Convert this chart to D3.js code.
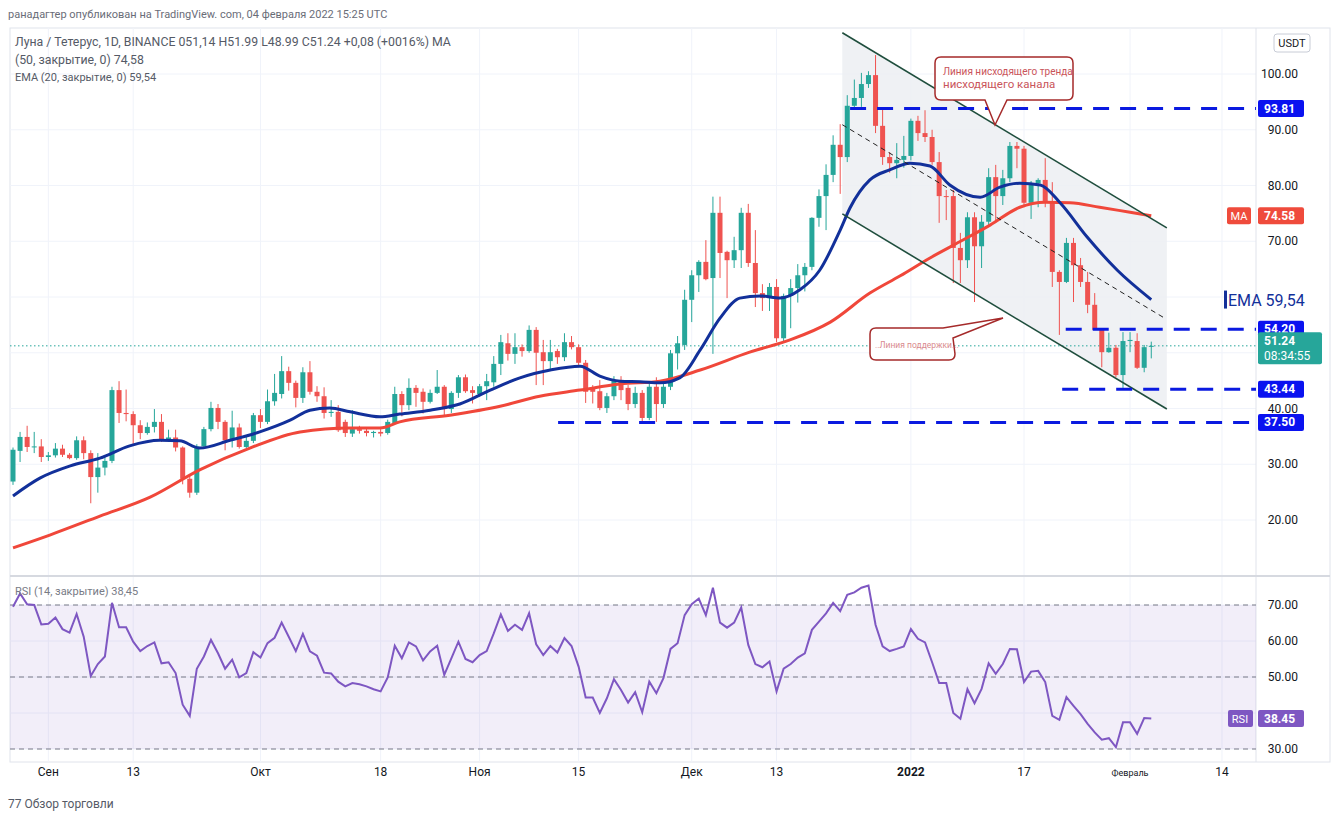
<!DOCTYPE html>
<html>
<head>
<meta charset="utf-8">
<script src="https://cdn.jsdelivr.net/npm/d3@7"></script>
<style>
  body { margin: 0; background: #fff; }
  svg { font-family: Roboto, "Noto Sans", sans-serif; }
</style>
</head>
<body>
<svg id="chart" width="1336" height="822"></svg>
<script>
// daily candles, first one is 27 Aug 2021, last one 4 Feb 2022
const opens = [26.9,32.4,34.9,33.1,33.2,31.3,31.6,32.8,31.7,31.1,34.3,32.0,27.7,29.4,30.6,43.3,39.2,39.0,37.0,35.6,
  36.7,37.6,34.3,34.8,33.0,27.4,24.9,33.2,36.3,40.1,37.6,34.3,36.6,33.1,34.2,38.8,37.6,41.3,42.6,46.7,
  44.6,41.9,46.5,43.0,42.2,39.2,39.4,37.6,35.5,36.3,36.0,35.6,35.8,35.6,37.4,42.6,40.6,43.7,43.0,41.2,
  42.8,43.9,39.9,42.8,45.6,43.3,42.6,44.0,44.7,48.0,51.7,49.8,51.0,50.3,54.1,50.1,48.5,50.3,49.2,51.9,
  51.0,48.2,43.7,43.1,40.1,42.2,45.1,43.7,40.8,42.8,38.3,43.9,40.8,43.9,49.9,51.4,59.5,63.9,66.3,63.4,
  75.1,68.1,66.6,68.4,75.1,66.1,60.7,59.8,61.8,52.6,60.2,61.6,63.9,65.4,74.2,78.1,81.9,87.3,85.1,94.3,
  95.7,98.2,99.8,90.7,85.1,84.0,84.6,85.3,91.6,89.4,88.7,84.2,78.1,78.1,68.8,66.6,74.3,69.1,73.5,81.5,
  78.1,81.3,87.1,86.6,76.9,80.4,81.0,77.0,64.5,62.7,69.7,65.7,62.7,58.6,54.1,50.1,50.9,46.0,52.1,52.1,
  47.3,51.14];
const highs = [33.0,35.8,36.9,35.8,34.5,32.2,33.8,33.5,32.0,35.0,35.0,32.5,32.0,31.5,43.9,44.9,43.4,39.5,37.9,37.5,
  39.9,39.0,36.2,36.2,33.2,28.0,33.6,36.7,41.2,40.8,37.9,39.6,37.3,35.0,39.2,39.9,43.4,46.2,49.4,47.5,
  45.0,47.4,48.5,44.0,43.8,41.5,40.6,38.0,39.7,36.9,36.5,36.0,36.3,38.0,43.9,43.1,45.4,44.2,43.6,43.4,
  46.9,44.2,43.1,46.0,46.1,44.0,44.4,46.2,49.4,53.2,53.5,53.5,51.5,54.9,54.6,52.3,52.3,50.7,53.5,53.0,
  51.5,48.7,44.2,45.1,42.8,45.8,45.8,44.2,43.9,43.3,44.4,45.6,44.4,50.5,53.0,61.3,64.8,66.6,70.2,78.0,
  78.0,68.3,70.8,76.0,76.7,72.0,62.3,62.5,63.2,60.6,63.2,65.9,66.1,74.3,79.3,83.8,89.0,91.0,96.2,99.0,
  100.2,100.5,103.4,93.9,86.0,87.6,88.9,92.0,92.5,93.5,90.0,86.0,79.2,79.2,71.5,75.2,75.2,74.7,83.1,83.7,
  82.8,87.8,87.8,87.1,80.8,81.3,84.9,80.6,64.8,70.6,70.6,67.0,64.5,60.7,54.1,53.6,51.4,53.7,53.7,53.5,
  51.4,51.99];
const lows = [26.3,30.4,32.2,32.0,30.4,30.6,31.2,31.3,30.9,30.8,30.9,23.0,24.9,28.0,30.2,37.4,37.7,33.5,34.5,35.3,
  35.7,34.0,34.0,32.3,26.4,24.0,24.5,33.0,35.9,36.3,32.5,33.0,32.8,32.9,33.8,36.5,37.2,40.5,41.8,43.2,
  40.2,41.0,42.5,41.2,38.2,38.5,35.8,34.9,34.9,35.5,35.0,34.8,35.0,35.3,37.2,38.6,39.7,40.3,39.1,40.9,
  42.6,38.5,39.2,41.9,42.8,40.9,42.1,41.5,43.9,46.0,48.6,48.0,49.3,50.0,44.2,44.2,46.9,48.0,48.5,50.6,
  47.6,41.0,40.9,39.7,39.2,41.5,41.5,39.7,40.1,37.6,37.9,37.6,40.1,43.3,47.0,50.5,55.5,60.9,63.0,49.8,
  63.4,59.8,65.2,65.2,65.4,58.2,57.5,57.5,51.9,51.9,54.4,59.0,61.0,64.8,72.6,72.0,80.6,78.5,84.2,94.0,
  94.1,97.5,89.4,83.7,82.3,81.3,83.2,84.5,88.0,87.8,83.7,73.3,73.8,62.5,62.5,65.2,59.1,65.2,72.6,73.3,
  76.5,80.6,83.1,76.1,74.0,76.1,76.1,61.8,53.2,62.5,59.1,61.8,57.1,54.1,47.4,50.0,45.6,43.7,50.1,47.1,
  46.5,48.99];
const closes = [32.6,34.9,33.1,33.2,31.3,31.6,32.8,31.7,31.1,34.3,32.0,27.7,29.4,30.6,43.3,39.2,39.0,37.0,35.6,36.7,
  37.6,34.3,34.8,33.0,27.4,24.9,33.2,36.3,40.1,37.6,34.3,36.6,33.1,34.2,38.8,37.6,41.3,42.8,46.7,44.6,
  41.9,46.5,43.0,42.2,39.2,39.4,36.1,35.6,36.3,36.0,35.6,35.8,35.5,37.6,42.6,40.6,43.7,42.8,41.2,42.8,
  43.9,39.9,42.8,45.6,43.1,42.8,44.0,44.9,48.0,51.9,49.8,51.0,50.3,54.1,50.0,48.5,50.1,49.2,51.9,51.0,
  48.2,43.0,43.0,40.1,42.2,45.1,43.3,40.8,42.8,38.3,43.9,40.8,43.9,49.9,51.7,59.5,63.9,66.3,63.2,75.1,
  67.9,66.6,68.4,75.1,66.1,60.7,59.8,61.8,52.6,60.2,61.6,63.9,65.4,74.2,78.1,81.9,87.3,85.1,94.3,95.7,
  98.2,99.8,90.7,85.1,84.0,84.6,85.3,91.6,89.4,88.7,84.2,78.1,78.0,68.8,66.6,74.3,69.1,73.5,81.5,78.1,
  81.3,87.1,86.6,76.9,80.4,81.0,77.0,64.5,62.7,69.7,65.7,62.7,58.6,54.1,50.1,50.9,46.0,52.1,52.3,47.3,
  51.0,51.24];

// moving averages as [day index, value]
const ema20 = [[0,24.3],[3.8,27.5],[8.1,29.7],[12.3,31.1],[16.5,33.3],[20.8,34.3],[23.6,34.2],[26.4,32.9],[30.7,34.3],
  [34.9,35.8],[39.2,37.9],[42,39.7],[44.8,40.1],[47.7,39.4],[51.9,38.5],[54.7,39.0],[59,39.7],[63.2,40.8],[67.5,43.3],
  [71.7,45.5],[76,46.9],[80.2,47.6],[83,45.8],[85.9,44.9],[88.7,44.8],[91.5,44.6],[94.3,45.5],[97.2,50.5],[100,56.2],
  [102.8,59.8],[105.7,60.2],[108.5,59.8],[111.3,61.3],[114.1,64.8],[117,72.0],[118.4,76.0],[121.2,81.0],[124,82.8],
  [126.9,84.0],[129.7,83.5],[132.5,80.1],[136.8,77.9],[139.6,79.7],[142.4,80.4],[145.3,80.1],[148.1,76.9],[151.9,70.8],
  [156.2,64.8],[161,59.54]];
const ma50 = [[0,15.0],[5.2,17.3],[12.3,20.7],[19.4,24.1],[26.4,29.0],[33.5,32.9],[40.6,35.8],[47.7,36.5],[51.9,36.5],
  [54.7,37.6],[61.8,38.8],[68.9,40.4],[74.5,42.2],[80.2,43.3],[85.9,44.4],[91.5,44.9],[97.2,46.9],[104.2,50.1],
  [109.9,52.3],[115.6,55.5],[121.2,60.7],[125.5,63.8],[129.7,67.0],[133.9,69.9],[138.2,72.9],[142.4,76.1],[146,77.0],
  [149.5,76.9],[153.7,76.1],[158,75.2],[161,74.58]];

// RSI(14), one value per day
const rsi = [69.5,73.2,70.2,70.0,64.6,64.8,66.5,63.3,62.3,67.5,61.2,50.3,53.6,55.7,70.6,63.8,63.8,59.8,57.2,58.6,
  59.6,53.8,54.1,51.1,42.3,39.2,52.3,55.7,60.3,56.6,52.3,54.8,49.9,51.1,56.9,55.4,59.4,60.9,65.1,61.2,
  57.2,62.0,57.1,55.9,51.2,51.0,48.7,47.4,48.3,48.0,47.4,46.6,46.0,49.9,58.7,55.2,59.6,58.5,54.6,57.1,
  58.7,50.6,55.2,59.8,55.0,54.1,56.1,57.2,62.1,67.4,62.8,64.5,63.1,67.7,59.1,56.1,58.6,56.8,60.8,58.6,
  52.9,44.3,44.3,40.0,44.1,49.4,46.4,42.9,45.8,40.2,48.7,45.5,49.7,57.8,59.4,67.2,70.2,71.8,67.2,74.8,
  65.1,63.7,65.1,69.3,58.9,53.6,52.7,54.3,46.0,52.3,53.6,55.4,56.6,63.1,65.4,67.7,70.6,68.3,72.8,73.5,
  74.8,75.4,64.5,58.5,57.2,57.8,58.5,63.3,60.6,59.6,54.1,48.3,48.3,40.0,38.4,46.6,42.7,46.7,53.8,50.9,
  53.6,57.8,57.7,48.6,51.5,51.7,48.6,39.2,38.1,44.4,42.0,39.7,37.0,34.6,32.6,33.0,30.5,37.4,37.4,34.2,
  38.6,38.45];

// drawings: channel lines [day index, price]
const channelTop = [[117.3,107.4],[163.2,72.4]];
const channelBottom = [[117.3,74.9],[163.2,39.9]];
const channelMid = [[117.3,90.9],[162.9,56.2]];
const levels = [{v:93.81,from:118.4},{v:54.20,from:148.9},{v:43.44,from:148.4},{v:37.50,from:77.1}];

const priceTicks = [100,90,80,70,40,30,20];
const rsiTicks = [70,60,50,30];
const timeLabels = [
  {d:new Date(2021,8,1), t:"Сен"}, {d:new Date(2021,8,13), t:"13"}, {d:new Date(2021,9,1), t:"Окт"},
  {d:new Date(2021,9,18), t:"18"}, {d:new Date(2021,10,1), t:"Ноя"}, {d:new Date(2021,10,15), t:"15"},
  {d:new Date(2021,11,1), t:"Дек"}, {d:new Date(2021,11,13), t:"13"}, {d:new Date(2022,0,1), t:"2022", bold:true},
  {d:new Date(2022,0,17), t:"17"}, {d:new Date(2022,1,1), t:"Февраль", small:true}, {d:new Date(2022,1,14), t:"14"}];

const green = "#26a69a", red = "#ef5350";
const svg = d3.select("#chart");
const start = new Date(2021,7,27);
const dayX = d3.scaleLinear().domain([0,161]).range([13, 13 + 161*7.07]);
const x = d3.scaleTime().domain([start, d3.timeDay.offset(start,161)]).range(dayX.range());
const y = d3.scaleLinear().domain([20,100]).range([520,74]);
const yr = d3.scaleLinear().domain([30,70]).range([749,605]);

const padL = 10, padR = 1256, padT = 28, mainBottom = 576, rsiBottom = 762;

// frame + grid
svg.append("rect").attr("x",padL).attr("y",padT).attr("width",1320).attr("height",rsiBottom-padT)
  .attr("fill","none").attr("stroke","#e0e3eb");
const grid = svg.append("g").attr("stroke","#f0f3fa");
timeLabels.forEach(l => {
  grid.append("line").attr("x1",x(l.d)).attr("x2",x(l.d)).attr("y1",padT).attr("y2",rsiBottom);
});
[100,90,80,70,60,50,40,30,20].forEach(v => grid.append("line").attr("x1",padL).attr("x2",padR).attr("y1",y(v)).attr("y2",y(v)));
[70,60,50,40,30].forEach(v => grid.append("line").attr("x1",padL).attr("x2",padR).attr("y1",yr(v)).attr("y2",yr(v)));
svg.append("line").attr("x1",padR).attr("x2",padR).attr("y1",padT).attr("y2",rsiBottom).attr("stroke","#e0e3eb");
svg.append("line").attr("x1",padL).attr("x2",1330).attr("y1",mainBottom).attr("y2",mainBottom).attr("stroke","#d6d9e0").attr("stroke-width",2);

const defs = svg.append("defs");
defs.append("clipPath").attr("id","mainClip")
  .append("rect").attr("x",padL).attr("y",padT).attr("width",padR-padL).attr("height",mainBottom-padT);
defs.append("clipPath").attr("id","rsiClip")
  .append("rect").attr("x",padL).attr("y",mainBottom).attr("width",padR-padL).attr("height",rsiBottom-mainBottom);

const main = svg.append("g").attr("clip-path","url(#mainClip)");
const pt = d => [dayX(d[0]), y(d[1])];

// channel shading
main.append("path")
  .attr("d", d3.line()([pt(channelTop[0]), pt(channelTop[1]), pt(channelBottom[1]), pt(channelBottom[0])]) + "Z")
  .attr("fill","#eceef2").attr("opacity",0.85);

// last price dotted line
main.append("line").attr("x1",padL).attr("x2",padR).attr("y1",y(51.24)).attr("y2",y(51.24))
  .attr("stroke",green).attr("stroke-dasharray","1.5,2.5");

// candles
const idx = d3.range(closes.length);
const cg = main.append("g");
idx.forEach(i => {
  const c = closes[i] >= opens[i] ? green : red;
  const cx = dayX(i);
  cg.append("line").attr("x1",cx).attr("x2",cx).attr("y1",y(highs[i])).attr("y2",y(lows[i])).attr("stroke",c);
  const y0 = y(Math.max(opens[i],closes[i])), y1 = y(Math.min(opens[i],closes[i]));
  cg.append("rect").attr("x",cx-2.5).attr("width",5).attr("y",y0).attr("height",Math.max(1,y1-y0)).attr("fill",c);
});

// MA / EMA
const curve = d3.line().x(d => dayX(d[0])).y(d => y(d[1])).curve(d3.curveMonotoneX);
main.append("path").attr("d",curve(ma50)).attr("fill","none").attr("stroke","#f0473a").attr("stroke-width",3);
main.append("path").attr("d",curve(ema20)).attr("fill","none").attr("stroke","#12309a").attr("stroke-width",3);

// channel lines
[channelTop, channelBottom].forEach(l => main.append("line")
  .attr("x1",pt(l[0])[0]).attr("y1",pt(l[0])[1]).attr("x2",pt(l[1])[0]).attr("y2",pt(l[1])[1])
  .attr("stroke","#1f4e3d").attr("stroke-width",1.6));
main.append("line").attr("x1",pt(channelMid[0])[0]).attr("y1",pt(channelMid[0])[1])
  .attr("x2",pt(channelMid[1])[0]).attr("y2",pt(channelMid[1])[1])
  .attr("stroke","#222").attr("stroke-dasharray","5,4");

// horizontal levels
levels.forEach(l => main.append("line").attr("x1",dayX(l.from)).attr("x2",padR).attr("y1",y(l.v)).attr("y2",y(l.v))
  .attr("stroke","#0a1ae0").attr("stroke-width",3).attr("stroke-dasharray","16,11"));

// callouts
function callout(x0,y0,w,h,tip,base,lines,size) {
  const p = d3.path();
  p.moveTo(x0+6,y0); p.lineTo(x0+w-6,y0); p.quadraticCurveTo(x0+w,y0,x0+w,y0+6);
  p.lineTo(x0+w,y0+h-6); p.quadraticCurveTo(x0+w,y0+h,x0+w-6,y0+h);
  p.lineTo(base[1],y0+h); p.lineTo(tip[0],tip[1]); p.lineTo(base[0],y0+h);
  p.lineTo(x0+6,y0+h); p.quadraticCurveTo(x0,y0+h,x0,y0+h-6); p.lineTo(x0,y0+6); p.quadraticCurveTo(x0,y0,x0+6,y0);
  svg.append("path").attr("d",p.toString()).attr("fill","#fff").attr("stroke","#a52a2a").attr("stroke-width",1.5);
  lines.forEach((t,k) => svg.append("text").attr("x",x0+8).attr("y",y0+18+k*13).attr("font-size",size[k])
    .attr("fill","#c9545a").text(t));
}
callout(935,57,138,43,[995,125],[985,1007],["Линия нисходящего тренда","нисходящего канала"],[10,11.5]);
// support callout with pointer going right
(function(){
  const x0=870,y0=328,w=85,h=32;
  const p = d3.path();
  p.moveTo(x0+6,y0); p.lineTo(x0+w-12,y0); p.lineTo(1003,318); p.lineTo(x0+w-2,y0+10);
  p.lineTo(x0+w,y0+h-6); p.quadraticCurveTo(x0+w,y0+h,x0+w-6,y0+h);
  p.lineTo(x0+6,y0+h); p.quadraticCurveTo(x0,y0+h,x0,y0+h-6); p.lineTo(x0,y0+6); p.quadraticCurveTo(x0,y0,x0+6,y0);
  svg.append("path").attr("d",p.toString()).attr("fill","#fff").attr("stroke","#a52a2a").attr("stroke-width",1.5);
  svg.append("text").attr("x",x0+5).attr("y",y0+20).attr("font-size",8.5).attr("fill","#d98a8e").text("..Линия поддержки...");
})();

// price axis labels
const ax = svg.append("g").attr("font-size",12).attr("fill","#131722").attr("text-anchor","end");
priceTicks.forEach(v => ax.append("text").attr("x",1298).attr("y",y(v)+4).text(d3.format(".2f")(v)));
svg.append("rect").attr("x",1274).attr("y",34).attr("width",36).attr("height",18).attr("rx",3)
  .attr("fill","#fff").attr("stroke","#c8ccd6");
svg.append("text").attr("x",1292).attr("y",47).attr("font-size",11).attr("text-anchor","middle").attr("fill","#131722").text("USDT");

function tag(v, yy, fill, text2) {
  const h = text2 ? 32 : 17;
  svg.append("rect").attr("x",1258).attr("y",yy-8.5).attr("width",text2 ? 64 : 46).attr("height",h).attr("rx",2).attr("fill",fill);
  svg.append("text").attr("x",1264).attr("y",yy+4).attr("font-size",12).attr("font-weight","bold").attr("fill","#fff").text(v);
  if (text2) svg.append("text").attr("x",1264).attr("y",yy+19).attr("font-size",12).attr("fill","#fff").text(text2);
}
levels.forEach(l => tag(d3.format(".2f")(l.v), y(l.v), "#0a12f0"));
tag("51.24", y(51.24)-5, green, "08:34:55");
tag("74.58", y(74.58), "#ef4b3c");
svg.append("rect").attr("x",1227).attr("y",y(74.58)-8.5).attr("width",24).attr("height",17).attr("rx",2).attr("fill","#ef4b3c");
svg.append("text").attr("x",1239).attr("y",y(74.58)+4).attr("font-size",11).attr("text-anchor","middle").attr("fill","#fff").text("MA");
svg.append("rect").attr("x",1224).attr("y",y(59.54)-9).attr("width",3).attr("height",18).attr("fill","#12309a");
svg.append("text").attr("x",1228).attr("y",y(59.54)+6).attr("font-size",16).attr("fill","#12309a").text("EMA 59,54");

// RSI pane
const rp = svg.append("g").attr("clip-path","url(#rsiClip)");
rp.append("rect").attr("x",padL).attr("width",padR-padL).attr("y",yr(70)).attr("height",yr(30)-yr(70)).attr("fill","#7e57c2").attr("opacity",0.1);
[70,50,30].forEach(v => rp.append("line").attr("x1",padL).attr("x2",padR).attr("y1",yr(v)).attr("y2",yr(v))
  .attr("stroke","#787b86").attr("stroke-dasharray","5,4"));
rp.append("path").attr("d", d3.line().x((d,i) => dayX(i)).y(d => yr(d))(rsi))
  .attr("fill","none").attr("stroke","#7e57c2").attr("stroke-width",2);
rsiTicks.forEach(v => ax.append("text").attr("x",1298).attr("y",yr(v)+4).text(d3.format(".2f")(v)));
svg.append("rect").attr("x",1258).attr("y",yr(38.45)-8.5).attr("width",46).attr("height",17).attr("rx",2).attr("fill","#7e57c2");
svg.append("text").attr("x",1264).attr("y",yr(38.45)+4).attr("font-size",12).attr("font-weight","bold").attr("fill","#fff").text("38.45");
svg.append("rect").attr("x",1228).attr("y",yr(38.45)-8.5).attr("width",25).attr("height",17).attr("rx",2).attr("fill","#7e57c2");
svg.append("text").attr("x",1240).attr("y",yr(38.45)+4).attr("font-size",11).attr("text-anchor","middle").attr("fill","#fff").text("RSI");
svg.append("text").attr("x",15).attr("y",595).attr("font-size",11).attr("fill","#787b86").text("RSI (14, закрытие) 38,45");

// time axis
timeLabels.forEach(l => svg.append("text").attr("x",x(l.d)).attr("y",776).attr("text-anchor","middle")
  .attr("font-size", l.small ? 9 : 12).attr("font-weight", l.bold ? "bold" : "normal").attr("fill","#131722").text(l.t));

// header texts
svg.append("text").attr("x",8).attr("y",18).attr("font-size",11).attr("fill","#6a6d78")
  .text("ранадагтер опубликован на TradingView. com, 04 февраля 2022 15:25 UTC");
svg.append("text").attr("x",15).attr("y",46).attr("font-size",12.3).attr("fill","#555a66")
  .text("Луна / Тетерус, 1D, BINANCE 051,14 H51.99 L48.99 C51.24 +0,08 (+0016%) MA");
svg.append("text").attr("x",15).attr("y",64).attr("font-size",12.3).attr("fill","#555a66").text("(50, закрытие, 0) 74,58");
svg.append("text").attr("x",15).attr("y",81).attr("font-size",11).attr("fill","#555a66").text("EMA (20, закрытие, 0) 59,54");
svg.append("text").attr("x",8).attr("y",808).attr("font-size",12).attr("fill","#555a66").text("77 Обзор торговли");
</script>
</body>
</html>
